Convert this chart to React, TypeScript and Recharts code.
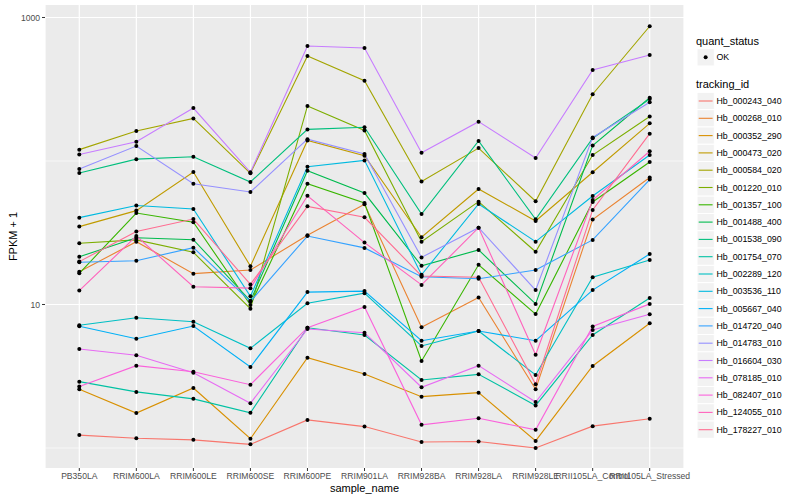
import { LineChart, Line, XAxis, YAxis, CartesianGrid } from "recharts"

const samples = [
  "PB350LA",
  "RRIM600LA",
  "RRIM600LE",
  "RRIM600SE",
  "RRIM600PE",
  "RRIM901LA",
  "RRIM928BA",
  "RRIM928LA",
  "RRIM928LE",
  "RRII105LA_Control",
  "RRII105LA_Stressed",
]

// FPKM + 1, one array per gene, in sample order
const hb000243_040 = [1.23, 1.17, 1.14, 1.06, 1.57, 1.41, 1.1, 1.11, 1.0, 1.42, 1.6]
const hb000268_010 = [16.9, 27.4, 16.4, 17.4, 30.4, 49.9, 6.94, 11.2, 2.57, 39.1, 76.7]
const hb000352_290 = [2.57, 1.75, 2.62, 1.16, 4.26, 3.28, 2.28, 2.43, 1.12, 3.73, 7.4]
const hb000473_020 = [34.9, 45.1, 83.8, 18.5, 139, 109, 29.4, 63.8, 38.2, 83.5, 183]
const hb000584_020 = [120, 162, 198, 82.1, 539, 363, 72, 123, 52.4, 292, 869]
const hb001220_010 = [26.7, 28.2, 23.1, 9.35, 242, 163, 27.4, 52.1, 23.3, 110, 204]
const hb001357_100 = [16.5, 43.4, 37.4, 9.92, 69.5, 51, 4.04, 18.9, 8.58, 51.8, 98.4]
const hb001488_400 = [21.5, 29.2, 28.3, 10.6, 85.6, 59.8, 18.6, 24, 10.1, 128, 276]
const hb001538_090 = [82.5, 103, 107, 71.4, 166, 172, 42.7, 138, 39.2, 144, 270]
const hb001754_070 = [2.9, 2.46, 2.2, 1.76, 6.89, 6.13, 2.98, 3.26, 1.98, 6.13, 11.1]
const hb002289_120 = [7.16, 8.09, 7.59, 4.95, 10.2, 12, 5.14, 6.54, 3.23, 15.5, 20.4]
const hb003536_110 = [40.3, 49, 46.3, 11.4, 91.3, 101, 16.1, 50.2, 27.4, 57, 110]
const hb005667_040 = [7.05, 5.78, 7.08, 3.67, 12.2, 12.4, 5.59, 6.54, 5.59, 12.6, 22.5]
const hb014720_040 = [19.7, 20.2, 24.9, 10.5, 30, 24.8, 15.6, 15.1, 17.4, 28.2, 74.3]
const hb014783_010 = [88, 127, 69.5, 60.8, 142, 112, 21.3, 34.3, 12.6, 146, 257]
const hb016604_030 = [111, 136, 234, 83.4, 633, 613, 114, 188, 105, 431, 548]
const hb078185_010 = [4.9, 4.43, 3.35, 2.05, 6.75, 6.36, 2.65, 3.75, 2.09, 6.64, 8.54]
const hb082407_010 = [2.68, 3.75, 3.4, 2.76, 6.89, 9.61, 1.45, 1.61, 1.34, 7.03, 10.1]
const hb124055_010 = [12.5, 30, 13.3, 13, 57.3, 27, 13.7, 34.3, 4.47, 53.5, 117]
const hb178227_010 = [19.9, 32.3, 39.4, 13.8, 48.3, 40.5, 15.8, 15.5, 2.78, 45.6, 155]

const trackingIds = [
  "Hb_000243_040",
  "Hb_000268_010",
  "Hb_000352_290",
  "Hb_000473_020",
  "Hb_000584_020",
  "Hb_001220_010",
  "Hb_001357_100",
  "Hb_001488_400",
  "Hb_001538_090",
  "Hb_001754_070",
  "Hb_002289_120",
  "Hb_003536_110",
  "Hb_005667_040",
  "Hb_014720_040",
  "Hb_014783_010",
  "Hb_016604_030",
  "Hb_078185_010",
  "Hb_082407_010",
  "Hb_124055_010",
  "Hb_178227_010",
]

const seriesValues = [
  hb000243_040, hb000268_010, hb000352_290, hb000473_020, hb000584_020,
  hb001220_010, hb001357_100, hb001488_400, hb001538_090, hb001754_070,
  hb002289_120, hb003536_110, hb005667_040, hb014720_040, hb014783_010,
  hb016604_030, hb078185_010, hb082407_010, hb124055_010, hb178227_010,
]

// ggplot hue palette, 20 levels
const colors = [
  "#F8766D", "#EA8331", "#D89000", "#C09B00", "#A3A500",
  "#7CAE00", "#39B600", "#00BB4E", "#00BF7D", "#00C1A3",
  "#00BFC4", "#00BAE0", "#00B0F6", "#35A2FF", "#9590FF",
  "#C77CFF", "#E76BF3", "#FA62DB", "#FF62BC", "#FF6C91",
]

const yMajor = [10, 1000]
const yMinor = [1, 100]
const yDomain = [0.7255, 1222]

const data = samples.map((sample, i) => {
  const row: Record<string, string | number> = { sample }
  trackingIds.forEach((id, k) => {
    row[id] = seriesValues[k][i]
  })
  return row
})

const font = "'Liberation Sans', Arial, Helvetica, sans-serif"

function LegendPanel() {
  const keyX = 697
  const keySize = 17.3
  const firstY = 101
  return (
    <svg width={800} height={500} style={{ position: "absolute", left: 0, top: 0, pointerEvents: "none" }}>
      <text x={696} y={40.7} dy="0.35em" fontSize={11} fill="#000" fontFamily={font}>
        quant_status
      </text>
      <rect x={keyX} y={57.3 - keySize / 2} width={keySize} height={keySize} fill="#F2F2F2" stroke="#fff" />
      <circle cx={keyX + keySize / 2} cy={57.3} r={2} fill="#000" />
      <text x={716.5} y={57.3} dy="0.35em" fontSize={8.8} fill="#000" fontFamily={font}>
        OK
      </text>
      <text x={696} y={84.3} dy="0.35em" fontSize={11} fill="#000" fontFamily={font}>
        tracking_id
      </text>
      {trackingIds.map((id, i) => {
        const cy = firstY + i * keySize
        return (
          <g key={id}>
            <rect x={keyX} y={cy - keySize / 2} width={keySize} height={keySize} fill="#F2F2F2" stroke="#fff" />
            <line x1={keyX + 1.7} x2={keyX + keySize - 1.7} y1={cy} y2={cy} stroke={colors[i]} strokeWidth={1.1} />
            <text x={716.5} y={cy} dy="0.35em" fontSize={8.8} fill="#000" fontFamily={font}>
              {id}
            </text>
          </g>
        )
      })}
    </svg>
  )
}

export default function App() {
  return (
    <div style={{ position: "absolute", left: 0, top: 0, width: 800, height: 500, background: "#fff", fontFamily: font }}>
      <LineChart width={800} height={500} data={data} margin={{ top: 5, right: 116, bottom: 0, left: 0 }}>
        <CartesianGrid
          fill="#EBEBEB"
          stroke="#fff"
          strokeWidth={1.2}
          horizontalValues={yMajor}
        />
        <CartesianGrid stroke="#fff" strokeWidth={0.6} vertical={false} horizontalValues={yMinor} />
        <XAxis
          dataKey="sample"
          type="category"
          interval={0}
          padding={{ left: 34.3, right: 34.3 }}
          height={32}
          axisLine={false}
          tickLine={{ stroke: "#333333" }}
          tickSize={3}
          tickMargin={2}
          tick={{ fill: "#4D4D4D", fontSize: 8.6 }}
          label={{ value: "sample_name", position: "insideBottom", offset: 8, fill: "#000", fontSize: 11 }}
        />
        <YAxis
          type="number"
          scale="log"
          domain={yDomain}
          allowDataOverflow
          ticks={yMajor}
          width={45}
          axisLine={false}
          tickLine={{ stroke: "#333333" }}
          tickSize={3}
          tickMargin={2}
          tick={{ fill: "#4D4D4D", fontSize: 8.6 }}
          label={({ viewBox }: any) => (
            <text
              x={13}
              y={viewBox.y + viewBox.height / 2}
              transform={`rotate(-90, 13, ${viewBox.y + viewBox.height / 2})`}
              textAnchor="middle"
              dominantBaseline="central"
              fontSize={11}
              fill="#000"
            >
              FPKM + 1
            </text>
          )}
        />
        {trackingIds.map((id, k) => (
          <Line
            key={id}
            dataKey={id}
            type="linear"
            stroke={colors[k]}
            strokeWidth={1.1}
            dot={false}
            activeDot={false}
            isAnimationActive={false}
          />
        ))}
        {trackingIds.map((id) => (
          <Line
            key={id + "_pts"}
            dataKey={id}
            type="linear"
            stroke="none"
            dot={{ r: 2, fill: "#000", stroke: "none" }}
            activeDot={false}
            legendType="none"
            isAnimationActive={false}
          />
        ))}
      </LineChart>
      <LegendPanel />
    </div>
  )
}
